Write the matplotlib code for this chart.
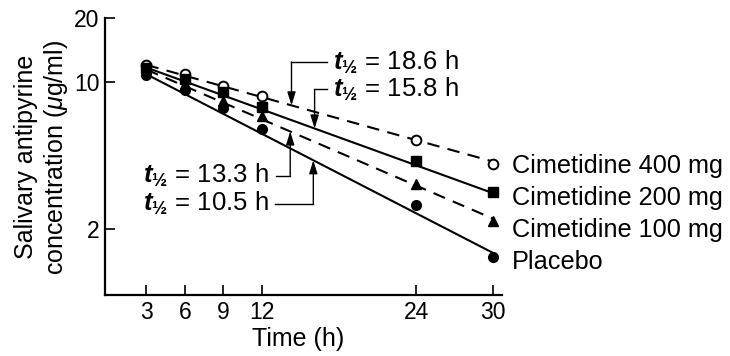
import numpy as np
import matplotlib
matplotlib.use("Agg")
import matplotlib.pyplot as plt

plt.rcParams['font.family'] = ['Liberation Sans', 'DejaVu Sans']
plt.rcParams['mathtext.fontset'] = 'custom'
plt.rcParams['mathtext.rm'] = 'Liberation Sans'
plt.rcParams['mathtext.it'] = 'Liberation Sans:italic'
plt.rcParams['mathtext.bf'] = 'Liberation Sans:bold'
plt.rcParams['mathtext.bfit'] = 'Liberation Sans:bold:italic'

# temps de prélèvement (h)
temps = [3, 6, 9, 12, 24, 30]

# concentrations salivaires d'antipyrine (ug/ml)
conc_400 = [12.0, 10.9, 9.55, 8.6, 5.3, 4.1]
conc_200 = [11.6, 10.3, 8.9, 7.55, 4.2, 3.0]
conc_100 = [11.2, 9.8, 8.1, 6.9, 3.3, 2.2]
conc_placebo = [10.8, 9.1, 7.5, 6.0, 2.6, 1.48]

# droites de régression (valeurs aux extrémités)
fit_t = [3, 30]
fit_400 = [12.0, 4.19]
fit_200 = [11.66, 2.97]
fit_100 = [11.4, 2.25]
fit_placebo = [10.84, 1.55]

noms = ["Cimetidine 400 mg", "Cimetidine 200 mg", "Cimetidine 100 mg", "Placebo"]
demi_vies = ["18.6", "15.8", "13.3", "10.5"]


def sur_droite(x, fit):
    return np.exp(np.interp(x, fit_t, np.log(fit)))


fig = plt.figure(figsize=(7.3, 3.56), dpi=100)
ax = fig.add_axes([0.1438, 0.1713, 0.5439, 0.7781])

lw = 1.5
ax.plot(fit_t, fit_400, color='black', lw=lw, dashes=(6, 4))
ax.plot(fit_t, fit_200, color='black', lw=lw)
ax.plot(fit_t, fit_100, color='black', lw=lw, dashes=(6, 4))
ax.plot(fit_t, fit_placebo, color='black', lw=lw)

ms = 7
ax.plot(temps, conc_400, 'o', ms=ms, mfc='white', mec='black', mew=1.4, zorder=5)
ax.plot(temps, conc_200, 's', ms=ms - 0.5, color='black', zorder=5)
ax.plot(temps, conc_100, '^', ms=ms, color='black', zorder=5)
ax.plot(temps, conc_placebo, 'o', ms=ms, color='black', zorder=5)

ax.set_yscale('log')
ax.set_xlim(-0.23, 30.7)
ax.set_ylim(0.98, 20)
ax.set_xticks(temps)
ax.set_xticklabels([str(t) for t in temps])
ax.set_yticks([2, 10, 20])
ax.set_yticklabels(['2', '10', '20'])
ax.minorticks_off()
ax.tick_params(direction='in', length=7, width=1.2, labelsize=16.5, pad=4)
for s in ['top', 'right']:
    ax.spines[s].set_visible(False)
for s in ['left', 'bottom']:
    ax.spines[s].set_linewidth(1.6)

ax.set_xlabel("Time (h)", fontsize=18)
ax.xaxis.set_label_coords(0.486, -0.115)
fig.text(0.057, 0.558, "Salivary antipyrine\nconcentration ($\\mu$g/ml)",
         rotation=90, ha='center', va='center', fontsize=18, multialignment='center')

# étiquettes des séries à droite
lbl_y = [4.0, 2.81, 1.98, 1.40]
for nom, y in zip(noms, lbl_y):
    ax.text(31.5, y, nom, fontsize=18.2, va='center', ha='left', clip_on=False)

# annotations des demi-vies
fits = [fit_400, fit_200, fit_100, fit_placebo]
fleche_x = [14.3, 16.1, 14.2, 16.0]
coude_y = [12.4, 9.2, 3.6, 2.65]
trait_x = [17.1, 17.1, 13.1, 13.0]
texte_x = [17.5, 17.5, 12.5, 12.5]
for i in range(4):
    xa = fleche_x[i]
    ya = coude_y[i]
    ax.plot([trait_x[i], xa], [ya, ya], color='black', lw=1.0)
    ax.annotate("", xy=(xa, sur_droite(xa, fits[i])), xytext=(xa, ya),
                arrowprops=dict(arrowstyle='-|>,head_length=0.8,head_width=0.25',
                                color='black', lw=1.0, shrinkA=0, shrinkB=0,
                                mutation_scale=10))
    ha = 'left' if i < 2 else 'right'
    ax.text(texte_x[i], ya, r"$\mathbfit{t}_{\mathbf{½}}$" + " = " + demi_vies[i] + " h",
            fontsize=18.5, ha=ha, va='center')

fig.savefig("out.png", dpi=100)
